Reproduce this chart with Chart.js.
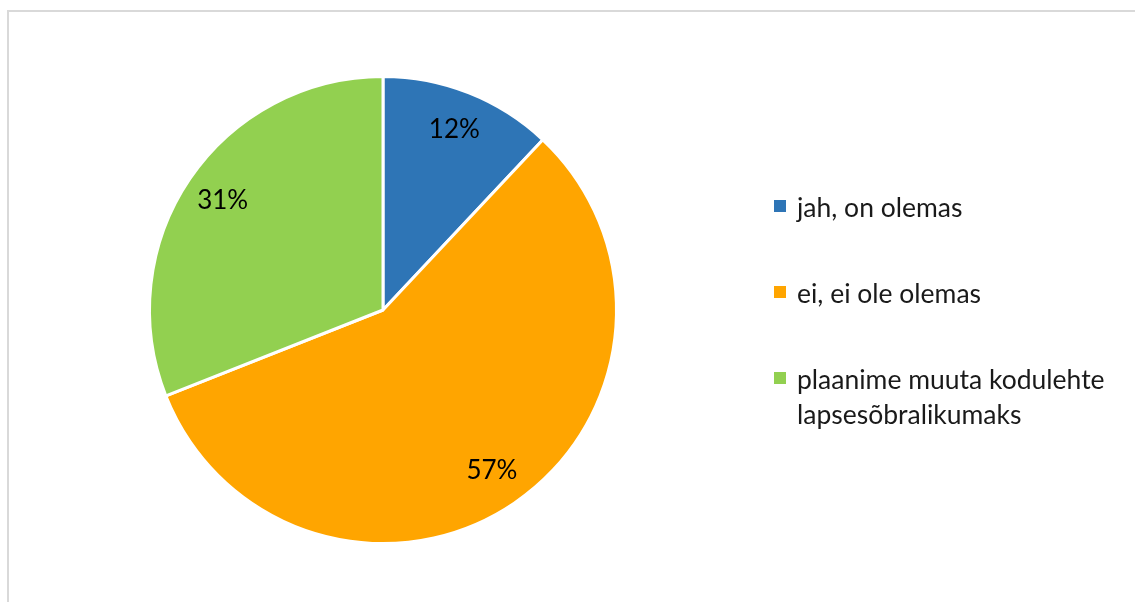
<!DOCTYPE html>
<html>
<head>
<meta charset="utf-8">
<script src="https://cdn.jsdelivr.net/npm/chart.js@4"></script>
<style>
  html, body { margin: 0; padding: 0; background: #fff; }
  #wrap { position: relative; width: 1135px; height: 602px; overflow: hidden; }
  #frame { position: absolute; left: 7px; top: 10px; width: 1200px; height: 700px;
           border: 2px solid #d9d9d9; box-sizing: border-box; }
  #chart { position: absolute; left: 0; top: 0; }
  #legend { position: absolute; left: 774px; top: 190px; font-family: Lato, "Open Sans", sans-serif;
            font-size: 26.5px; color: #1a1a1a; }
  .item { position: absolute; white-space: nowrap; line-height: 35px; }
  .sw { position: absolute; left: 0; top: 10px; width: 12px; height: 12px; }
  .txt { position: absolute; left: 23px; top: 0; }
</style>
</head>
<body>
<div id="wrap">
  <div id="frame"></div>
  <canvas id="chart" width="1135" height="602"></canvas>
  <div id="legend"></div>
</div>
<script>
const categories = ['jah, on olemas', 'ei, ei ole olemas', 'plaanime muuta kodulehte\nlapsesõbralikumaks'];
const shares = [12, 57, 31];
const sliceColors = ['#2E75B6', '#FFA500', '#92D050'];

const legendTops = [0, 86, 172];

const renderLegend = () => {
    const box = document.getElementById('legend');
    box.innerHTML = categories.map((c, i) => `
        <div class="item" style="top:${legendTops[i]}px">
            <div class="sw" style="background:${sliceColors[i]}"></div>
            <div class="txt">${c.replace('\n', '<br>')}</div>
        </div>
    `).join('');
};

const pctLabels = {
    id: 'pctLabels',
    afterDatasetsDraw(chart) {
        const ctx = chart.ctx;
        const meta = chart.getDatasetMeta(0);
        ctx.save();
        ctx.font = '26px Lato, "Open Sans", sans-serif';
        ctx.fillStyle = '#000';
        ctx.textAlign = 'center';
        ctx.textBaseline = 'middle';
        meta.data.forEach((arc, i) => {
            const p = arc.getProps(['x', 'y', 'startAngle', 'endAngle', 'outerRadius']);
            const mid = (p.startAngle + p.endAngle) / 2;
            const r = p.outerRadius * 0.83;
            ctx.fillText(shares[i] + '%', p.x + Math.cos(mid) * r, p.y + Math.sin(mid) * r);
        });
        ctx.restore();
    }
};

const initChart = () => {
    const ctx = document.getElementById('chart').getContext('2d');
    new Chart(ctx, {
        type: 'pie',
        data: {
            labels: categories,
            datasets: [{
                data: shares,
                backgroundColor: sliceColors,
                borderColor: '#fff',
                borderWidth: 3
            }]
        },
        options: {
            responsive: false,
            animation: false,
            layout: { padding: { left: 148, right: 517, top: 75, bottom: 57 } },
            plugins: { legend: { display: false }, tooltip: { enabled: false } }
        },
        plugins: [pctLabels]
    });
};

document.addEventListener('DOMContentLoaded', () => {
    renderLegend();
    initChart();
});
</script>
</body>
</html>
